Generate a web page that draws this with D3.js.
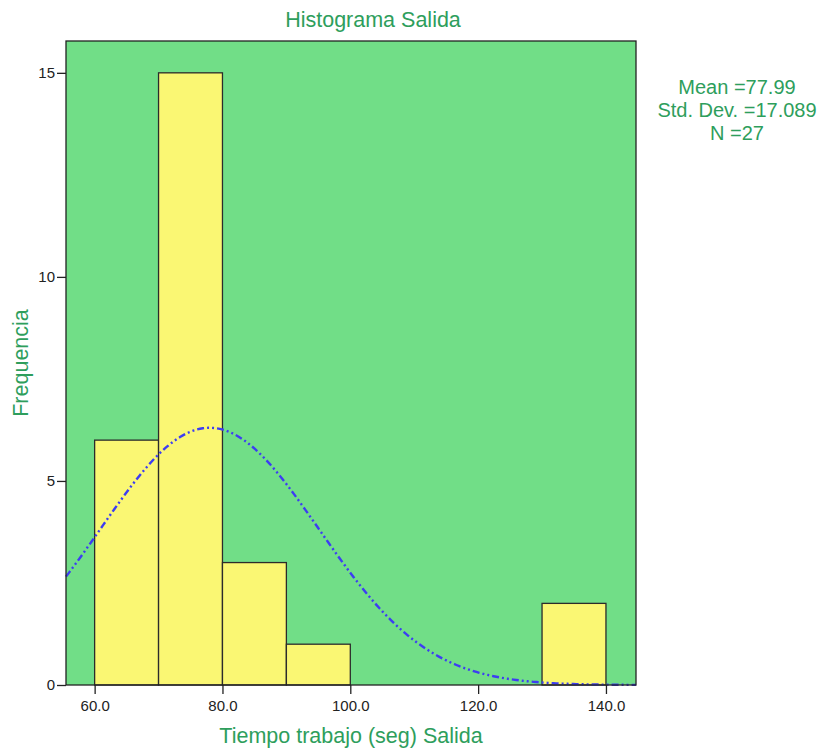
<!DOCTYPE html>
<html>
<head>
<meta charset="utf-8">
<script src="https://cdn.jsdelivr.net/npm/d3@7"></script>
<style>
  body { margin: 0; background: #fff; }
  text { font-family: "Liberation Sans", Arial, sans-serif; }
</style>
</head>
<body>
<div id="chart"></div>
<script>
// bins of the histogram (lower edge, upper edge, count)
const binStart = [60, 70, 80, 90, 130];
const binEnd = [70, 80, 90, 100, 140];
const binCount = [6, 15, 3, 1, 2];

// stats shown next to the chart
const statLabels = ["Mean =77.99", "Std. Dev. =17.089", "N =27"];
const statMean = 77.99, statSd = 17.089, statN = 27, binWidth = 10;

const xTicks = [60, 80, 100, 120, 140];
const yTicks = [0, 5, 10, 15];

// set the dimensions and margins of the graph
const margin = { top: 41, right: 189, bottom: 64, left: 66 },
    width = 825 - margin.left - margin.right,
    height = 749 - margin.top - margin.bottom;

const svg = d3.select("#chart")
    .append("svg")
    .attr("width", 825)
    .attr("height", 749);

const g = svg.append("g")
    .attr("transform", `translate(${margin.left},${margin.top})`);

const x = d3.scaleLinear().domain([55.52, 144.7]).range([0, width]);
const y = d3.scaleLinear().domain([0, 15.78]).range([height, 0]);

// background of the plot
g.append("rect")
    .attr("width", width)
    .attr("height", height)
    .attr("fill", "#71de87");

// bars
g.selectAll("rect.bar")
    .data(binCount)
    .join("rect")
    .attr("class", "bar")
    .attr("x", (d, i) => x(binStart[i]))
    .attr("width", (d, i) => x(binEnd[i]) - x(binStart[i]))
    .attr("y", d => y(d))
    .attr("height", d => y(0) - y(d))
    .attr("fill", "#faf773")
    .attr("stroke", "#2b2b2b")
    .attr("stroke-width", 1.3);

// normal curve from the stats
const curveXs = d3.range(0, 201).map(i => x.domain()[0] + i * (x.domain()[1] - x.domain()[0]) / 200);
const normal = v => statN * binWidth * Math.exp(-0.5 * Math.pow((v - statMean) / statSd, 2)) / (statSd * Math.sqrt(2 * Math.PI));
g.append("path")
    .datum(curveXs)
    .attr("fill", "none")
    .attr("stroke", "#3d3df2")
    .attr("stroke-width", 2.4)
    .attr("stroke-dasharray", "7,3,2,3,2,3")
    .attr("d", d3.line().x(d => x(d)).y(d => y(normal(d))));

// frame
g.append("rect")
    .attr("width", width)
    .attr("height", height)
    .attr("fill", "none")
    .attr("stroke", "#222")
    .attr("stroke-width", 1.3);

// axes
const xAxis = g.append("g")
    .attr("transform", `translate(0,${height})`)
    .call(d3.axisBottom(x).tickValues(xTicks).tickFormat(d3.format(".1f")).tickSize(9).tickPadding(6));
const yAxis = g.append("g")
    .call(d3.axisLeft(y).tickValues(yTicks).tickSize(9).tickPadding(2));
[xAxis, yAxis].forEach(a => {
    a.select(".domain").remove();
    a.attr("font-size", 15).attr("font-family", null);
    a.selectAll("line").attr("stroke", "#222").attr("stroke-width", 1.3);
    a.selectAll("text").attr("fill", "#222").style("font-size", "15px");
});

// title and axis labels
svg.append("text")
    .attr("x", 373)
    .attr("y", 27)
    .attr("text-anchor", "middle")
    .attr("fill", "#2e9e5c")
    .style("font-size", "21.5px")
    .text("Histograma Salida");

svg.append("text")
    .attr("x", margin.left + width / 2)
    .attr("y", 743)
    .attr("text-anchor", "middle")
    .attr("fill", "#2e9e5c")
    .style("font-size", "21.5px")
    .text("Tiempo trabajo (seg) Salida");

svg.append("text")
    .attr("transform", `translate(28,${margin.top + height / 2}) rotate(-90)`)
    .attr("text-anchor", "middle")
    .attr("fill", "#2e9e5c")
    .style("font-size", "21.5px")
    .text("Frequencia");

// stats box
svg.selectAll("text.stat")
    .data(statLabels)
    .join("text")
    .attr("class", "stat")
    .attr("x", 737)
    .attr("y", (d, i) => 94 + i * 23)
    .attr("text-anchor", "middle")
    .attr("fill", "#2e9e5c")
    .style("font-size", "20px")
    .text(d => d);
</script>
</body>
</html>
